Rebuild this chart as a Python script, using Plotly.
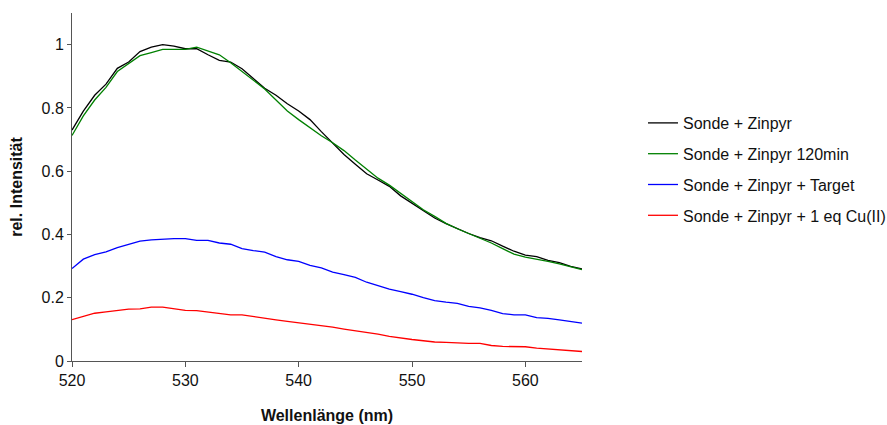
import plotly.graph_objects as go

wavelength = list(range(520, 566))

sonde_zinpyr = [0.73, 0.79, 0.84, 0.875, 0.925, 0.945, 0.978, 0.992, 1.0, 0.995,
                0.987, 0.987, 0.968, 0.95, 0.945, 0.924, 0.893, 0.862, 0.84, 0.813,
                0.79, 0.763, 0.725, 0.688, 0.653, 0.622, 0.592, 0.572, 0.552, 0.522,
                0.498, 0.475, 0.452, 0.434, 0.418, 0.403, 0.39, 0.38, 0.363, 0.347,
                0.335, 0.33, 0.318, 0.311, 0.299, 0.291]

sonde_zinpyr_120 = [0.713, 0.775, 0.825, 0.865, 0.915, 0.94, 0.965, 0.975, 0.985, 0.985,
                    0.985, 0.992, 0.98, 0.968, 0.943, 0.915, 0.886, 0.86, 0.825, 0.79,
                    0.763, 0.737, 0.712, 0.69, 0.665, 0.635, 0.605, 0.578, 0.556, 0.53,
                    0.502, 0.478, 0.457, 0.435, 0.418, 0.403, 0.388, 0.373, 0.355, 0.338,
                    0.328, 0.322, 0.315, 0.307, 0.298, 0.289]

sonde_zinpyr_target = [0.292, 0.322, 0.336, 0.345, 0.358, 0.368, 0.379, 0.383, 0.386, 0.387,
                       0.387, 0.381, 0.381, 0.373, 0.369, 0.355, 0.349, 0.344, 0.33, 0.32,
                       0.315, 0.302, 0.294, 0.281, 0.273, 0.264, 0.249, 0.238, 0.227, 0.219,
                       0.211, 0.2, 0.191, 0.186, 0.182, 0.173, 0.168, 0.16, 0.15, 0.146,
                       0.146, 0.137, 0.135, 0.13, 0.125, 0.12]

sonde_zinpyr_cu = [0.131, 0.141, 0.151, 0.155, 0.16, 0.164, 0.165, 0.17, 0.17, 0.165,
                   0.16, 0.159, 0.155, 0.15, 0.146, 0.146, 0.14, 0.135, 0.13, 0.125,
                   0.121, 0.117, 0.112, 0.107, 0.101, 0.096, 0.091, 0.085, 0.078, 0.072,
                   0.068, 0.064, 0.06, 0.059, 0.057, 0.056, 0.056, 0.049, 0.046, 0.045,
                   0.045, 0.041, 0.038, 0.034, 0.031, 0.03]

series_names = ["Sonde + Zinpyr", "Sonde + Zinpyr 120min",
                "Sonde + Zinpyr + Target", "Sonde + Zinpyr + 1 eq Cu(II)"]
series_values = [sonde_zinpyr, sonde_zinpyr_120, sonde_zinpyr_target, sonde_zinpyr_cu]
series_colors = ["#000000", "#008000", "#0000FF", "#FF0000"]

x_ticks = [520, 530, 540, 550, 560]
y_tickvals = [0, 0.2, 0.4, 0.6, 0.8, 1]
y_ticktext = ["0", "0.2", "0.4", "0.6", "0.8", "1"]

fig = go.Figure()
for i, (name, vals, col) in enumerate(zip(series_names, series_values, series_colors)):
    fig.add_trace(go.Scatter(x=wavelength, y=vals, mode="lines", name=name,
                             legendgroup=f"g{i}",
                             line=dict(color=col, width=1.3)))

font_family = "Liberation Sans, Arial, sans-serif"
fig.update_layout(
    width=887, height=425,
    margin=dict(l=72, r=305, t=13, b=64),
    plot_bgcolor="white", paper_bgcolor="white",
    font=dict(family=font_family, size=16, color="#111111"),
    showlegend=True,
    legend=dict(xref="container", yref="container", x=0.7249, y=0.7506,
                xanchor="left", yanchor="top",
                font=dict(size=16, color="#111111"),
                tracegroupgap=7, traceorder="grouped",
                bgcolor="rgba(0,0,0,0)"),
    xaxis=dict(range=[520, 565], tickvals=x_ticks, ticks="outside", ticklen=5,
               tickcolor="#555555", showline=True, linecolor="#555555", linewidth=1,
               showgrid=False, zeroline=False, tickfont=dict(size=16), automargin=False,
               title=dict(text="<b>Wellenlänge (nm)</b>", font=dict(size=16), standoff=21)),
    yaxis=dict(range=[0, 1.1], tickvals=y_tickvals, ticktext=y_ticktext,
               ticks="outside", ticklen=4, tickcolor="#555555",
               showline=True, linecolor="#555555", linewidth=1,
               showgrid=False, zeroline=False, tickfont=dict(size=16), automargin=False,
               title=dict(text="<b>rel. Intensität</b>", font=dict(size=16), standoff=14)),
)

fig.write_html("out.html")
